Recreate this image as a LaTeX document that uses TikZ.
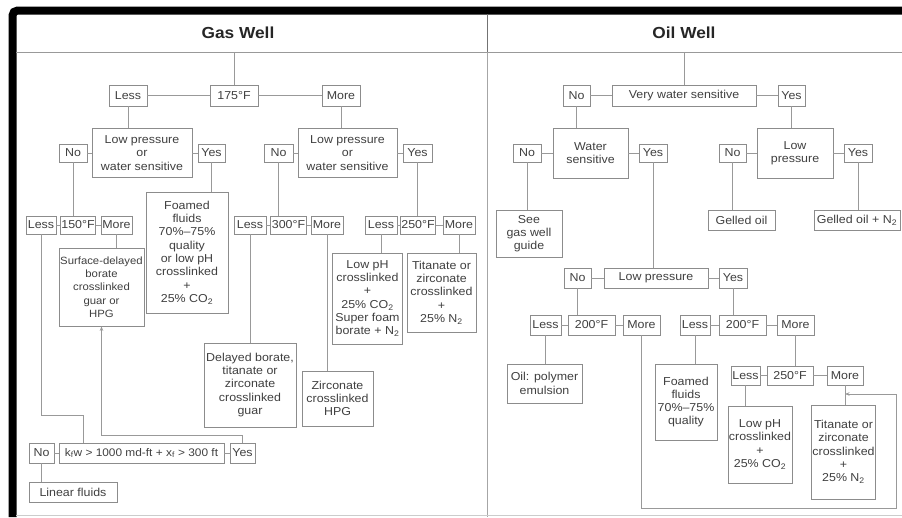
\documentclass[tikz,border=0pt]{standalone}
\usepackage{fontspec}
\setmainfont{Liberation Sans}[FakeStretch=1.08]
\usetikzlibrary{arrows.meta}
\tikzset{
  bx/.style={draw=black!45, line width=0.8pt, fill=white, text=black!75, align=center, inner sep=1pt,
    font=\fontsize{11.5}{13.3}\selectfont},
  ln/.style={draw=black!40, line width=0.8pt},
  arr/.style={ln, -{Stealth[length=4.5pt,width=3.5pt]}},
  ttl/.style={font=\fontsize{16}{18}\selectfont\bfseries, text=black!85},
}
\newcommand{\bxn}[6]{\node[bx, minimum width=#4pt, minimum height=#5pt] (#1) at (#2,#3) {#6};}
\begin{document}
\begin{tikzpicture}[x=1pt,y=-1pt]
\useasboundingbox (0,0) rectangle (902,517);
% frame
\draw[black, line width=8pt, rounded corners=5pt] (12.5,517) -- (12.5,10.5) -- (902,10.5);
\draw[black!40, line width=0.8pt] (16,52) -- (902,52);
\draw[black!55, line width=0.9pt] (487,14) -- (487,52);
\draw[black!35, line width=0.8pt] (487,52) -- (487,517);
\draw[black!20, line width=0.8pt] (16,515) -- (902,515);
\node[ttl] (gtitle) at (238,33) {Gas Well};
\node[ttl] (otitle) at (684,33) {Oil Well};
\coordinate (groot) at (234,52);
\coordinate (oroot) at (684,52);

% ---------- Gas well ----------
\bxn{less1}{128}{95.5}{38}{21}{Less}
\bxn{t175}{234}{95.5}{48}{21}{175°F}
\bxn{more1}{341}{95.5}{38}{21}{More}
\bxn{lp1}{142}{153}{100}{49}{Low pressure\\or\\water sensitive}
\bxn{no1}{73}{153}{28}{18}{No}
\bxn{yes1}{211.5}{153}{27}{18}{Yes}
\bxn{less2}{41}{225}{30}{18}{Less}
\bxn{t150}{78}{225}{34}{18}{150°F}
\bxn{more2}{116.5}{225}{31}{18}{More}
\node[bx, minimum width=85pt, minimum height=78pt, font=\fontsize{10.5}{13.3}\selectfont] (surf) at (101.5,287) {Surface-delayed\\borate\\crosslinked\\guar or\\HPG};
\bxn{foam1}{187}{252.5}{82}{121}{Foamed\\fluids\\70\%–75\%\\quality\\or low pH\\crosslinked\\+\\25\% CO\textsubscript{2}}
\bxn{lp2}{347.5}{153}{99}{49}{Low pressure\\or\\water sensitive}
\bxn{no4}{278.5}{153}{29}{18}{No}
\bxn{yes4}{417.5}{153}{29}{18}{Yes}
\bxn{less5}{250}{225}{32}{18}{Less}
\bxn{t300}{288.5}{225}{35}{18}{300°F}
\bxn{more5}{327}{225}{32}{18}{More}
\bxn{less6}{381}{225}{32}{18}{Less}
\bxn{t250}{418}{225}{31}{18}{250°F}
\bxn{more6}{459}{225}{32}{18}{More}
\bxn{lowph1}{367.5}{298.5}{70}{91}{Low pH\\crosslinked\\+\\25\% CO\textsubscript{2}\\Super foam\\borate + N\textsubscript{2}}
\bxn{tit1}{441.5}{292.5}{69}{79}{Titanate or\\zirconate\\crosslinked\\+\\25\% N\textsubscript{2}}
\bxn{delay}{250}{385}{92}{84}{Delayed borate,\\titanate or\\zirconate\\crosslinked\\guar}
\bxn{zirc}{337.5}{398.5}{71}{55}{Zirconate\\crosslinked\\HPG}
\node[bx, minimum width=165pt, minimum height=20pt, font=\fontsize{11}{13.3}\selectfont] (kbox) at (141.5,453) {k\textsubscript{f}w > 1000 md-ft + x\textsubscript{f} > 300 ft};
\bxn{no3}{41.5}{453}{25}{20}{No}
\bxn{yes3}{242.5}{453}{25}{20}{Yes}
\bxn{linear}{73}{492}{88}{20}{Linear fluids}
\coordinate (kj) at (83,415);
\coordinate (yj) at (101.5,435);

\draw[ln] (groot) -- (t175.north);
\draw[ln] (less1) -- (t175) -- (more1);
\draw[ln] (less1.south) -- (less1.south |- lp1.north);
\draw[ln] (more1.south) -- (more1.south |- lp2.north);
\draw[ln] (no1) -- (lp1) -- (yes1);
\draw[ln] (no4) -- (lp2) -- (yes4);
\draw[ln] (no1.south) -- (no1.south |- t150.north);
\draw[ln] (yes1.south) -- (yes1.south |- foam1.north);
\draw[ln] (less2) -- (t150) -- (more2);
\draw[ln] (more2.south) -- (more2.south |- surf.north);
\draw[ln] (no4.south) -- (no4.south |- t300.north);
\draw[ln] (yes4.south) -- (yes4.south |- t250.north);
\draw[ln] (less5) -- (t300) -- (more5);
\draw[ln] (less6) -- (t250) -- (more6);
\draw[ln] (less5.south) -- (less5.south |- delay.north);
\draw[ln] (more5.south) -- (more5.south |- zirc.north);
\draw[ln] (less6.south) -- (less6.south |- lowph1.north);
\draw[ln] (more6.south) -- (more6.south |- tit1.north);
\draw[ln] (less2.south) |- (kj) -- (kj |- kbox.north);
\draw[arr] (yes3.north) |- (yj) -- (surf.south);
\draw[ln] (no3) -- (kbox) -- (yes3);
\draw[ln] (no3.south) -- (no3.south |- linear.north);

% ---------- Oil well ----------
\bxn{vws}{684}{95.5}{144}{21}{Very water sensitive}
\bxn{no7}{576.5}{95.5}{27}{21}{No}
\bxn{yes7}{791.5}{95.5}{27}{21}{Yes}
\bxn{ws}{590.5}{153}{75}{50}{Water\\sensitive}
\bxn{no8}{527}{153}{28}{18}{No}
\bxn{yes8}{653}{153}{28}{18}{Yes}
\bxn{lp3}{795}{153}{76}{50}{Low\\pressure}
\bxn{no9}{732.5}{153}{27}{18}{No}
\bxn{yes9}{858}{153}{28}{18}{Yes}
\bxn{see}{529}{233.5}{66}{47}{See\\gas well\\guide}
\bxn{gel}{741.5}{220}{67}{20}{Gelled oil}
\bxn{geln}{857}{220}{86}{20}{Gelled oil + N\textsubscript{2}}
\bxn{lp4}{656}{278}{104}{20}{Low pressure}
\bxn{no10}{577.5}{278}{27}{20}{No}
\bxn{yes10}{733}{278}{28}{20}{Yes}
\bxn{less11}{545.5}{325}{31}{20}{Less}
\bxn{t200a}{591.5}{325}{47}{20}{200°F}
\bxn{more11}{641.5}{325}{37}{20}{More}
\bxn{oilp}{544.5}{383.5}{75}{39}{Oil: polymer\\emulsion}
\bxn{less12}{695}{325}{30}{20}{Less}
\bxn{t200b}{742.5}{325}{47}{20}{200°F}
\bxn{more12}{795.5}{325}{37}{20}{More}
\bxn{foam2}{686}{402}{62}{76}{Foamed\\fluids\\70\%–75\%\\quality}
\bxn{less13}{745.5}{375.5}{29}{19}{Less}
\bxn{t250b}{790}{375.5}{46}{19}{250°F}
\bxn{more13}{845}{375.5}{36}{19}{More}
\bxn{lowph2}{760}{444.5}{58}{77}{Low pH\\crosslinked\\+\\25\% CO\textsubscript{2}}
\bxn{tit2}{843.5}{452}{63}{94}{Titanate or\\zirconate\\crosslinked\\+\\25\% N\textsubscript{2}}
\coordinate (loopb) at (896,508);
\coordinate (loopt) at (896,394);

\draw[ln] (oroot) -- (vws.north);
\draw[ln] (no7) -- (vws) -- (yes7);
\draw[ln] (no7.south) -- (no7.south |- ws.north);
\draw[ln] (yes7.south) -- (yes7.south |- lp3.north);
\draw[ln] (no8) -- (ws) -- (yes8);
\draw[ln] (no9) -- (lp3) -- (yes9);
\draw[ln] (no8.south) -- (no8.south |- see.north);
\draw[ln] (no9.south) -- (no9.south |- gel.north);
\draw[ln] (yes9.south) -- (yes9.south |- geln.north);
\draw[ln] (yes8.south) -- (yes8.south |- lp4.north);
\draw[ln] (no10) -- (lp4) -- (yes10);
\draw[ln] (no10.south) -- (no10.south |- t200a.north);
\draw[ln] (yes10.south) -- (yes10.south |- t200b.north);
\draw[ln] (less11) -- (t200a) -- (more11);
\draw[ln] (less12) -- (t200b) -- (more12);
\draw[ln] (less11.south) -- (less11.south |- oilp.north);
\draw[ln] (less12.south) -- (less12.south |- foam2.north);
\draw[ln] (more12.south) -- (more12.south |- t250b.north);
\draw[ln] (less13) -- (t250b) -- (more13);
\draw[ln] (less13.south) -- (less13.south |- lowph2.north);
\draw[ln] (more13.south) -- (more13.south |- tit2.north);
\draw[arr] (more11.south) |- (loopb) -- (loopt) -- (more13.south |- loopt);
\end{tikzpicture}
\end{document}
